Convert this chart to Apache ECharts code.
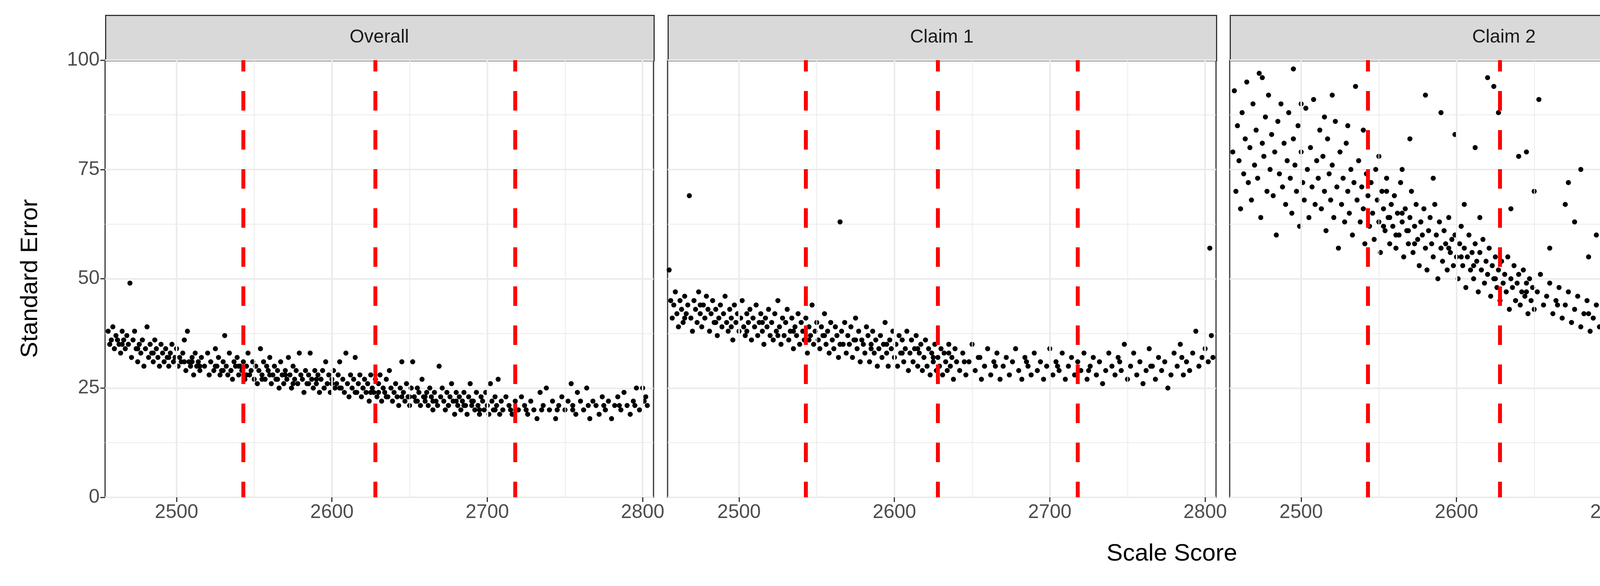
<!DOCTYPE html>
<html>
<head>
<meta charset="utf-8">
<script src="https://cdn.jsdelivr.net/npm/echarts@6/dist/echarts.min.js"></script>
<style>html,body{margin:0;background:#fff}#main{width:6000px;height:1500px}</style>
</head>
<body>
<div id="main"></div>
<script>
// 面板标题
var panels = ['Overall', 'Claim 1', 'Claim 2', 'Claim 3'];
// 刻度
var xTicks = [2500, 2600, 2700, 2800];
var xMinorTicks = [2550, 2650, 2750];
var yTicks = [0, 25, 50, 75, 100];
// 分割线（红色虚线）
var cutScores = [2543, 2628, 2718];

// 散点数据 "x,y"
var overallPts = '2456,38 2457,35 2458,36 2459,39 2460,34 2461,37 2462,36 2463,35 2464,33 2465,38 2466,36 2467,34 2468,37 2469,35 2470,49 2471,32 2472,36 2473,38 2474,34 2475,31 2476,35 2477,33 2478,36 2479,30 2480,34 2481,39 2482,32 2483,35 2484,33 2485,31 2486,36 2487,34 2488,32 2489,30 2490,35 2491,33 2492,31 2493,34 2494,32 2495,30 2496,33 2497,35 2498,31 2499,32 2500,34 2501,30 2502,32 2503,31 2504,33 2505,36 2506,29 2507,38 2508,31 2509,30 2510,32 2511,28 2512,33 2513,30 2514,31 2515,29 2516,32 2518,30 2520,33 2521,28 2522,31 2524,29 2525,34 2526,30 2527,32 2528,28 2529,29 2530,31 2531,37 2532,30 2533,28 2534,33 2535,29 2536,27 2537,31 2538,30 2539,32 2540,28 2541,30 2542,29 2543,31 2544,27 2545,30 2546,33 2547,28 2548,29 2549,31 2550,27 2551,30 2552,26 2553,29 2554,34 2555,28 2556,31 2557,27 2558,30 2559,29 2560,32 2561,26 2562,28 2563,30 2564,27 2565,29 2566,25 2567,31 2568,28 2569,26 2570,29 2571,27 2572,32 2573,28 2574,25 2575,30 2576,27 2577,29 2578,26 2579,33 2580,28 2581,27 2582,24 2583,29 2584,26 2585,28 2586,33 2587,27 2588,25 2589,29 2590,26 2591,28 2592,24 2593,27 2594,29 2595,25 2596,31 2597,26 2598,28 2599,24 2600,27 2601,29 2602,25 2603,26 2604,28 2605,31 2606,25 2607,27 2608,24 2609,33 2610,26 2611,23 2612,28 2613,25 2614,27 2615,32 2616,24 2617,26 2618,28 2619,23 2620,25 2621,27 2622,24 2623,26 2624,22 2625,28 2626,25 2627,24 2628,27 2629,23 2630,26 2631,28 2632,22 2633,25 2634,24 2635,27 2636,23 2637,29 2638,25 2639,22 2640,24 2641,26 2642,23 2643,21 2644,25 2645,31 2646,24 2647,22 2648,26 2649,23 2650,21 2651,25 2652,31 2653,23 2654,22 2655,25 2656,24 2657,21 2658,27 2659,23 2660,22 2661,24 2662,21 2663,25 2664,23 2665,20 2666,24 2667,22 2668,21 2669,30 2670,23 2671,25 2672,22 2673,20 2674,24 2675,21 2676,23 2677,26 2678,22 2679,19 2680,24 2681,21 2682,23 2683,20 2684,22 2685,24 2686,21 2687,19 2688,23 2689,26 2690,21 2691,22 2692,20 2693,24 2694,21 2695,19 2696,23 2697,22 2698,20 2699,24 2700,21 2701,19 2702,26 2703,22 2704,20 2705,23 2706,21 2707,27 2708,19 2709,22 2710,20 2712,23 2714,21 2716,19 2718,22 2720,20 2722,23 2724,21 2726,19 2728,22 2730,20 2732,18 2734,24 2736,21 2738,25 2740,20 2742,22 2744,18 2746,21 2748,23 2750,20 2752,22 2754,26 2755,21 2757,19 2758,24 2760,22 2762,20 2764,25 2766,18 2768,22 2770,21 2772,19 2774,23 2776,20 2778,22 2780,18 2782,21 2784,23 2786,20 2788,24 2790,21 2792,19 2794,22 2796,25 2798,20 2800,25 2801,22 2802,23 2803,21 2530,29 2560,28 2590,27 2620,25 2650,23 2680,22 2510,31 2540,30 2570,28 2600,26 2630,24 2660,23 2690,22 2465,35 2475,34 2485,33 2495,32 2505,31 2515,30 2525,30 2535,29 2545,28 2555,27 2565,27 2575,26 2585,26 2595,25 2605,25 2615,24 2625,24 2635,23 2645,23 2655,22 2665,22 2675,21 2685,21 2695,20 2705,20 2715,20 2725,20 2735,20 2745,20 2755,20 2765,21 2775,21 2785,21 2795,21';

var claim1Pts = '2455,52 2456,45 2457,41 2458,44 2459,47 2460,42 2461,39 2462,45 2463,43 2464,40 2465,46 2466,42 2467,44 2468,69 2469,41 2470,38 2471,45 2472,43 2473,40 2474,47 2475,42 2476,39 2477,44 2478,41 2479,46 2480,43 2481,38 2482,42 2483,45 2484,40 2485,43 2486,37 2487,41 2488,44 2489,39 2490,42 2491,46 2492,40 2493,38 2494,43 2495,41 2496,36 2497,44 2498,40 2499,42 2500,38 2501,41 2502,45 2503,39 2504,37 2505,42 2506,40 2507,43 2508,36 2509,41 2510,39 2511,44 2512,37 2513,40 2514,42 2515,38 2516,35 2517,41 2518,39 2519,43 2520,37 2521,40 2522,36 2523,42 2524,38 2525,45 2526,39 2527,35 2528,41 2529,37 2530,40 2531,43 2532,36 2533,38 2534,41 2535,34 2536,39 2537,37 2538,42 2539,35 2540,40 2541,38 2542,36 2543,41 2544,33 2545,39 2546,37 2547,44 2548,35 2549,38 2550,40 2551,36 2552,34 2553,39 2554,37 2555,42 2556,35 2557,38 2558,33 2559,40 2560,36 2561,34 2562,39 2563,37 2564,32 2565,63 2566,38 2567,35 2568,40 2569,33 2570,37 2571,35 2572,39 2573,32 2574,36 2575,41 2576,34 2577,38 2578,31 2579,36 2580,35 2581,33 2582,39 2583,37 2584,31 2585,35 2586,38 2587,33 2588,36 2589,30 2590,34 2591,37 2592,32 2593,35 2594,40 2595,33 2596,30 2597,36 2598,34 2599,38 2600,32 2601,35 2602,30 2603,37 2604,33 2605,36 2606,31 2607,34 2608,38 2609,29 2610,33 2611,36 2612,31 2613,34 2614,37 2615,30 2616,33 2617,35 2618,29 2619,32 2620,36 2621,30 2622,34 2623,28 2624,33 2625,31 2626,35 2627,29 2628,32 2629,30 2630,34 2631,28 2632,33 2633,31 2634,29 2635,35 2636,30 2637,32 2638,27 2639,34 2640,31 2642,29 2644,33 2646,28 2648,31 2650,35 2652,29 2654,32 2656,27 2658,30 2660,34 2662,28 2664,31 2666,33 2668,27 2670,30 2672,32 2674,28 2676,31 2678,34 2680,29 2682,27 2684,32 2686,30 2688,28 2690,33 2692,29 2694,31 2696,27 2698,30 2700,34 2702,28 2704,31 2706,29 2708,33 2710,27 2712,30 2714,32 2716,28 2718,31 2720,29 2722,33 2724,27 2726,30 2728,32 2730,28 2732,31 2734,26 2736,29 2738,33 2740,30 2742,28 2744,32 2746,29 2748,35 2750,27 2752,30 2754,33 2756,28 2758,31 2760,26 2762,29 2764,34 2766,30 2768,27 2770,32 2772,29 2774,31 2776,25 2778,28 2780,33 2782,30 2784,35 2786,28 2788,31 2790,29 2792,33 2794,38 2796,30 2798,32 2800,34 2802,31 2803,57 2804,37 2805,32 2465,41 2485,40 2505,38 2525,37 2545,36 2565,35 2585,34 2605,33 2625,32 2645,31 2665,30 2685,31 2705,30 2725,29 2745,31 2765,30 2785,32 2475,44 2495,39 2515,40 2535,38 2555,37 2575,36 2595,35 2615,34 2635,33 2655,32';

var claim2Pts = '2456,79 2457,93 2458,70 2459,85 2460,77 2461,66 2462,88 2463,74 2464,82 2465,95 2466,72 2467,80 2468,68 2469,90 2470,76 2471,84 2472,73 2473,97 2474,64 2475,81 2476,78 2477,87 2478,70 2479,92 2480,75 2481,83 2482,69 2483,79 2484,60 2485,86 2486,74 2487,90 2488,71 2489,81 2490,67 2491,77 2492,88 2493,73 2494,65 2495,82 2496,76 2497,70 2498,85 2499,62 2500,79 2501,72 2502,68 2503,89 2504,75 2505,64 2506,80 2507,71 2508,91 2509,67 2510,77 2511,73 2512,84 2513,66 2514,78 2515,70 2516,61 2517,82 2518,74 2519,68 2520,76 2521,64 2522,86 2523,71 2524,57 2525,79 2526,67 2527,73 2528,63 2529,81 2530,70 2531,65 2532,75 2533,60 2534,72 2535,94 2536,68 2537,77 2538,63 2539,71 2540,66 2541,58 2542,74 2543,69 2544,62 2545,72 2546,65 2547,59 2548,75 2549,68 2550,63 2551,56 2552,70 2553,66 2554,61 2555,73 2556,64 2557,58 2558,67 2559,62 2560,69 2561,57 2562,65 2563,60 2564,72 2565,63 2566,55 2567,66 2568,61 2569,58 2570,64 2571,70 2572,56 2573,62 2574,67 2575,59 2576,53 2577,63 2578,60 2579,66 2580,57 2581,52 2582,61 2583,64 2584,58 2585,55 2586,67 2587,60 2588,50 2589,63 2590,57 2591,54 2592,61 2593,58 2594,52 2595,64 2596,56 2597,59 2598,53 2599,60 2600,55 2601,50 2602,58 2603,62 2604,53 2605,57 2606,48 2607,55 2608,60 2609,52 2610,56 2611,50 2612,58 2613,54 2614,47 2615,56 2616,52 2617,59 2618,49 2619,54 2620,51 2621,57 2622,46 2623,53 2624,50 2625,55 2626,48 2627,52 2628,45 2629,54 2630,49 2631,51 2632,47 2633,55 2634,43 2635,50 2636,48 2637,53 2638,45 2639,49 2640,51 2641,44 2642,47 2643,52 2644,46 2645,49 2646,42 2647,50 2648,45 2649,48 2650,43 2652,47 2654,51 2656,44 2658,46 2660,49 2662,42 2664,45 2666,48 2668,41 2670,44 2672,47 2674,40 2676,43 2678,46 2680,39 2682,42 2684,45 2686,38 2688,41 2690,44 2692,39 2694,42 2696,37 2698,40 2700,43 2702,38 2704,41 2706,44 2708,36 2710,40 2712,38 2714,42 2716,36 2718,39 2720,41 2722,35 2724,38 2726,40 2728,36 2730,39 2732,34 2734,37 2736,41 2738,35 2740,38 2742,36 2744,40 2746,34 2748,37 2750,42 2752,35 2754,38 2756,36 2758,44 2760,37 2762,34 2764,39 2766,36 2768,41 2770,35 2772,38 2774,36 2776,40 2778,33 2780,37 2782,31 2784,39 2786,36 2788,41 2790,35 2792,38 2794,36 2796,42 2798,34 2800,48 2802,39 2804,36 2805,52 2580,92 2590,88 2620,96 2624,94 2627,88 2653,91 2672,72 2680,75 2757,76 2765,72 2782,84 2787,62 2612,80 2550,78 2570,82 2599,83 2640,78 2697,67 2702,58 2744,59 2760,60 2783,60 2770,55 2779,50 2670,67 2676,63 2690,60 2650,70 2645,79 2530,85 2515,87 2495,98 2475,96 2500,90 2520,92 2540,84 2555,70 2565,75 2585,73 2605,67 2615,64 2635,66 2660,57 2685,55 2705,53 2553,62 2557,64 2561,60 2565,65 2569,61 2573,58 2577,63 2595,57 2603,55 2611,53 2625,50 2645,47 2665,44 2685,42 2705,40 2725,38 2745,37 2765,37';

var claim3Pts = '2456,88 2457,76 2458,95 2459,83 2460,70 2461,91 2462,79 2463,86 2464,74 2465,99 2466,81 2467,68 2468,89 2469,77 2470,93 2471,72 2472,84 2473,56 2474,79 2475,88 2476,66 2477,82 2478,75 2479,96 2480,71 2481,85 2482,78 2483,64 2484,90 2485,73 2486,81 2487,69 2488,86 2489,76 2490,92 2491,72 2492,80 2493,65 2494,84 2495,74 2496,70 2497,87 2498,77 2499,63 2500,82 2501,73 2502,90 2503,68 2504,79 2505,75 2506,62 2507,85 2508,71 2509,78 2510,66 2511,81 2512,73 2513,95 2514,69 2515,76 2516,64 2517,80 2518,72 2519,67 2520,77 2521,60 2522,74 2523,86 2524,70 2525,65 2526,78 2527,72 2528,62 2529,75 2530,68 2531,83 2532,71 2533,64 2534,76 2535,59 2536,70 2537,66 2538,79 2539,63 2540,72 2541,67 2542,57 2543,74 2544,69 2545,62 2546,77 2547,65 2548,60 2549,71 2550,66 2551,58 2552,73 2553,63 2554,68 2555,56 2556,65 2557,70 2558,61 2559,57 2560,67 2561,63 2562,72 2563,59 2564,64 2565,55 2566,68 2567,61 2568,58 2569,65 2570,62 2571,53 2572,67 2573,60 2574,57 2575,63 2576,70 2577,56 2578,61 2579,58 2580,65 2581,54 2582,60 2583,57 2584,63 2585,51 2586,59 2587,66 2588,55 2589,61 2590,58 2591,53 2592,62 2593,57 2594,50 2595,60 2596,56 2597,64 2598,52 2599,58 2600,55 2601,61 2602,50 2603,57 2604,54 2605,59 2606,49 2607,56 2608,53 2609,60 2610,51 2611,57 2612,48 2613,55 2614,52 2615,58 2616,50 2617,54 2618,47 2619,56 2620,52 2621,49 2622,55 2623,51 2624,45 2625,53 2626,50 2627,56 2628,48 2629,52 2630,38 2631,54 2632,49 2633,51 2634,46 2635,53 2636,50 2637,57 2638,47 2639,52 2640,49 2642,54 2644,46 2646,51 2648,48 2650,55 2652,45 2654,50 2656,53 2658,47 2660,51 2662,44 2664,49 2666,52 2668,46 2670,50 2672,43 2674,48 2676,53 2678,45 2680,50 2682,47 2684,42 2686,49 2688,52 2690,44 2692,48 2694,46 2696,51 2698,41 2700,47 2702,50 2704,43 2706,48 2708,45 2710,52 2712,40 2714,46 2716,49 2718,43 2720,47 2722,51 2724,42 2726,46 2728,49 2730,38 2732,45 2734,48 2736,42 2738,46 2740,35 2742,44 2744,49 2746,41 2748,45 2750,37 2752,47 2754,43 2756,40 2758,46 2760,34 2762,42 2764,48 2766,39 2768,44 2770,36 2772,47 2774,41 2776,38 2778,45 2780,35 2782,42 2784,47 2786,39 2788,44 2790,36 2792,50 2794,42 2796,46 2798,53 2800,58 2802,48 2804,61 2805,66 2600,92 2610,87 2620,80 2633,85 2640,75 2655,70 2660,66 2680,62 2700,65 2720,76 2725,73 2745,68 2757,70 2760,64 2787,72 2798,50 2590,83 2570,78 2550,82 2530,90 2510,98 2490,100 2500,96 2480,99 2565,88 2585,74 2605,70 2625,68 2645,63 2665,60 2685,58 2705,57 2725,56 2745,54 2765,52 2715,62 2735,60 2755,59 2555,66 2575,60 2595,59 2615,55 2635,52 2655,51 2675,50 2695,49 2715,48 2735,46 2755,45 2775,44';

var panelData = [overallPts, claim1Pts, claim2Pts, claim3Pts];

function parsePts(s){
  return s.split(' ').map(function(p){ var a = p.split(','); return [+a[0], +a[1]]; });
}

var chart = echarts.init(document.getElementById('main'));
var lefts = [269, 1709, 3148, 4586];
var gridW = 1404, gridTop = 154, gridH = 1119;
var font = 'Liberation Sans';

var grids = [], xAxes = [], yAxes = [], series = [], graphics = [];
for (var i = 0; i < 4; i++) {
  grids.push({left: lefts[i], top: gridTop, width: gridW, height: gridH,
    show: true, borderColor: '#333333', borderWidth: 3, backgroundColor: '#fff'});
  xAxes.push({
    gridIndex: i, type: 'value', min: 2454, max: 2807,
    axisLine: {show: false},
    axisTick: {show: true, customValues: xTicks, length: 12, lineStyle: {color: '#333', width: 3}},
    axisLabel: {customValues: xTicks, fontSize: 50, color: '#4d4d4d', margin: 14, fontFamily: font,
      formatter: function(v){ return String(v); }},
    splitLine: {show: false}
  });
  yAxes.push({
    gridIndex: i, type: 'value', min: 0, max: 100, interval: 25,
    axisLine: {show: false},
    axisTick: {show: i === 0, length: 12, lineStyle: {color: '#333', width: 3}},
    axisLabel: {show: i === 0, fontSize: 50, color: '#4d4d4d', margin: 14, fontFamily: font},
    splitLine: {show: true, lineStyle: {color: '#ebebeb', width: 4}},
    minorTick: {show: false, splitNumber: 2},
    minorSplitLine: {show: true, lineStyle: {color: '#ebebeb', width: 2}}
  });
  // 竖向网格线
  series.push({
    type: 'line', xAxisIndex: i, yAxisIndex: i, data: [], silent: true, z: 1,
    markLine: {silent: true, symbol: 'none', animation: false, label: {show: false},
      data: xTicks.map(function(v){ return {xAxis: v, lineStyle: {color: '#ebebeb', width: 4, type: 'solid'}}; })
        .concat(xMinorTicks.map(function(v){ return {xAxis: v, lineStyle: {color: '#ebebeb', width: 2, type: 'solid'}}; }))}
  });
  series.push({
    type: 'scatter', xAxisIndex: i, yAxisIndex: i, data: parsePts(panelData[i]),
    symbolSize: 13, itemStyle: {color: '#000', opacity: 1}, z: 3, clip: true, animation: false
  });
  series.push({
    type: 'line', xAxisIndex: i, yAxisIndex: i, data: [], silent: true, z: 5,
    markLine: {silent: true, symbol: 'none', animation: false, label: {show: false},
      lineStyle: {color: '#ff0000', width: 10, type: [50, 50], dashOffset: 10},
      data: cutScores.map(function(v){ return {xAxis: v}; })}
  });
  graphics.push({
    type: 'rect', left: lefts[i], top: 38,
    shape: {width: gridW, height: gridTop - 38},
    style: {fill: '#d9d9d9', stroke: '#333333', lineWidth: 3}
  });
  graphics.push({
    type: 'text', x: lefts[i] + gridW / 2, y: 96,
    style: {text: panels[i], fontSize: 48, fill: '#1a1a1a', fontFamily: font,
      align: 'center', verticalAlign: 'middle'}
  });
}
graphics.push({type: 'text', x: 3000, y: 1418,
  style: {text: 'Scale Score', fontSize: 62, fill: '#000', fontFamily: font, align: 'center', verticalAlign: 'middle'}});
graphics.push({type: 'text', x: 78, y: 713, rotation: Math.PI / 2,
  style: {text: 'Standard Error', fontSize: 62, fill: '#000', fontFamily: font, align: 'center', verticalAlign: 'middle'}});

chart.setOption({
  backgroundColor: '#fff',
  animation: false,
  grid: grids, xAxis: xAxes, yAxis: yAxes, series: series, graphic: graphics
});
</script>
</body>
</html>
